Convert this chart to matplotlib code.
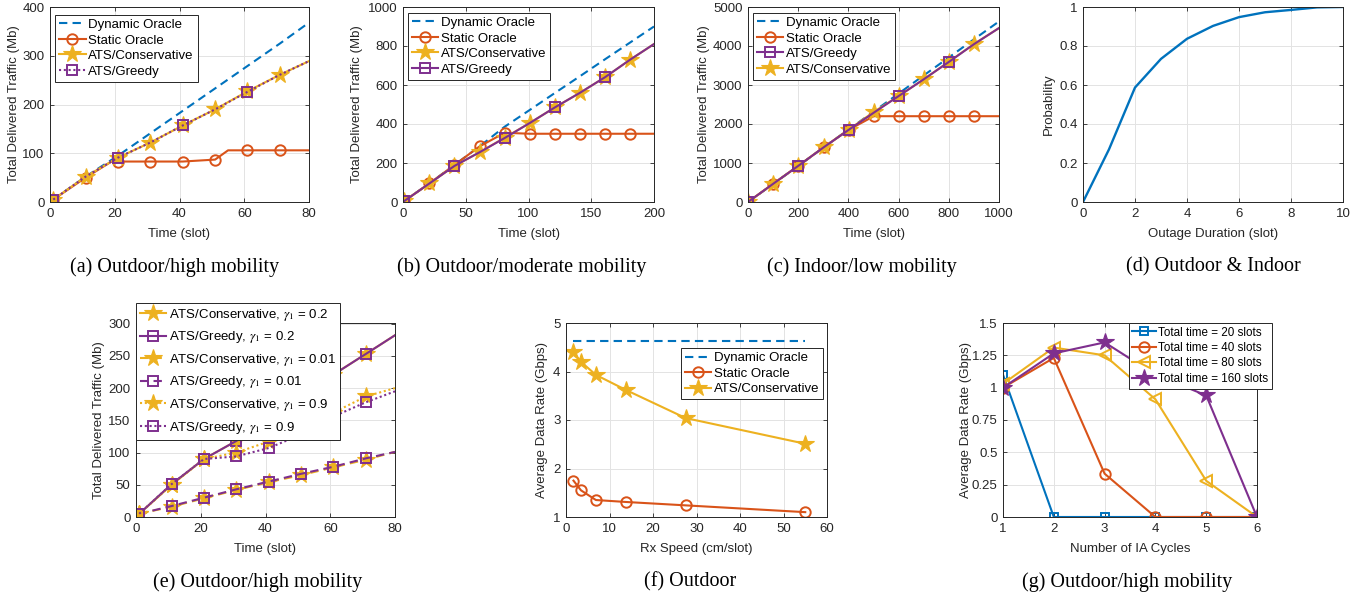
import matplotlib
matplotlib.use("Agg")
import matplotlib.pyplot as plt

# ---------------- data ----------------
# (a) Outdoor/high mobility
a_time = [1, 11, 21, 31, 41, 51, 61, 71, 80]
a_dynamic = [5, 52, 95, 141, 187, 233, 279, 325, 368]
a_static_time = [1, 11, 19, 21, 31, 41, 51, 55, 61, 71, 80]
a_static = [5, 50, 83, 83, 83, 83, 87, 106, 106, 106, 106]
a_cons = [5, 52, 91, 122, 157, 190, 227, 261, 289]
a_greedy = [5, 52, 91, 122, 157, 190, 226, 261, 289]

# (b) Outdoor/moderate mobility
b_time = [1, 21, 41, 61, 81, 101, 121, 141, 161, 181, 200]
b_dynamic = [5, 95, 190, 285, 386, 472, 559, 645, 732, 818, 900]
b_static = [5, 95, 190, 285, 355, 350, 350, 350, 350, 350, 350]
b_cons = [5, 95, 185, 255, 330, 405, 485, 560, 640, 730, 810]
b_greedy = [5, 95, 185, 255, 328, 405, 485, 560, 640, 730, 810]

# (c) Indoor/low mobility
c_time = [1, 101, 201, 301, 401, 501, 601, 701, 801, 901, 1000]
c_dynamic = [5, 465, 930, 1395, 1860, 2320, 2785, 3250, 3710, 4175, 4630]
c_static = [5, 470, 930, 1400, 1850, 2200, 2200, 2200, 2200, 2200, 2200]
c_greedy = [5, 470, 930, 1400, 1850, 2290, 2720, 3150, 3595, 4050, 4460]
c_cons = [5, 470, 930, 1400, 1855, 2310, 2720, 3150, 3600, 4055, 4460]

# (d) Outdoor & Indoor
d_duration = [0, 1, 2, 3, 4, 5, 6, 7, 8, 9, 10]
d_prob = [0, 0.27, 0.587, 0.734, 0.837, 0.903, 0.948, 0.973, 0.985, 0.998, 1.0]

# (e) Outdoor/high mobility, different gamma_1
e_time = [1, 11, 21, 31, 41, 51, 61, 71, 80]
e_cons_02 = [5, 50, 90, 118, 152, 187, 221, 253, 282]
e_greedy_02 = [5, 51, 90, 118, 152, 187, 221, 253, 282]
e_cons_001 = [5, 16, 29, 42, 54, 65, 77, 89, 101]
e_greedy_001 = [5, 17, 30, 43, 55, 67, 78, 91, 101]
e_cons_09 = [5, 50, 90, 100, 117, 136, 162, 187, 200]
e_greedy_09 = [5, 51, 90, 94, 107, 128, 156, 178, 195]

# (f) Outdoor, rate vs speed
f_speed = [1.72, 3.44, 6.875, 13.75, 27.5, 55]
f_dynamic = [4.62, 4.62, 4.62, 4.62, 4.62, 4.62]
f_static = [1.75, 1.55, 1.35, 1.31, 1.24, 1.10]
f_cons = [4.40, 4.20, 3.93, 3.62, 3.04, 2.51]

# (g) Outdoor/high mobility, rate vs IA cycles
g_cycles = [1, 2, 3, 4, 5, 6]
g_20 = [1.10, 0, 0, 0, 0, 0]
g_40 = [1.00, 1.23, 0.335, 0, 0, 0]
g_80 = [1.03, 1.31, 1.25, 0.91, 0.28, 0]
g_160 = [1.00, 1.265, 1.35, 1.10, 0.94, 0]

captions = ["(a) Outdoor/high mobility", "(b) Outdoor/moderate mobility",
            "(c) Indoor/low mobility", "(d) Outdoor & Indoor",
            "(e) Outdoor/high mobility", "(f) Outdoor", "(g) Outdoor/high mobility"]

# ---------------- style ----------------
BLUE = "#0072BD"
ORANGE = "#D95319"
YELLOW = "#EDB120"
PURPLE = "#7E2F8E"
TXT = "#262626"

plt.rcParams["font.family"] = ["Liberation Sans", "DejaVu Sans"]
plt.rcParams["mathtext.fontset"] = "stix"
plt.rcParams["font.size"] = 9

W, H = 1363, 597
fig = plt.figure(figsize=(W / 100, H / 100), dpi=100)

LW = 1.5
DASH = (0, (4, 2.5))
DOT = (0, (1, 1.3))
XLPAD = 6


def make_ax(l, t, r, b):
    ax = fig.add_axes([l / W, 1 - b / H, (r - l) / W, (b - t) / H])
    ax.grid(True, color="#e3e3e3", lw=0.7)
    ax.set_axisbelow(True)
    for s in ax.spines.values():
        s.set_color(TXT)
        s.set_linewidth(0.7)
    ax.tick_params(direction="in", length=3, width=0.6, colors=TXT,
                   labelsize=9.5, top=True, right=True, pad=4)
    return ax


def legend(ax, loc, anchor, fs=9.5, ls=0.25, **kw):
    lg = ax.legend(loc=loc, bbox_to_anchor=anchor, fancybox=False,
                   framealpha=1, edgecolor=TXT, fontsize=fs,
                   handlelength=2.0, handletextpad=0.2, labelspacing=ls,
                   borderpad=0.3, borderaxespad=0, **kw)
    lg.get_frame().set_linewidth(0.7)
    lg.set_zorder(10)
    return lg


circ = dict(marker="o", ms=7.5, mfc="none", mew=1.4)
star = dict(marker="*", ms=13, mew=0.8)
sq = dict(marker="s", ms=6.5, mfc="none", mew=1.4)

# (a)
ax = make_ax(50, 7, 309, 202)
ax.plot(a_time, a_dynamic, color=BLUE, lw=LW, ls=DASH, label="Dynamic Oracle")
ax.plot(a_static_time, a_static, color=ORANGE, lw=LW, markevery=[0, 1, 3, 4, 5, 6, 8, 9],
        label="Static Oracle", **circ)
ax.plot(a_time, a_cons, color=YELLOW, lw=LW, markevery=list(range(8)), mec=YELLOW, mfc=YELLOW,
        label="ATS/Conservative", **star)
ax.plot(a_time, a_greedy, color=PURPLE, lw=LW, ls=DOT, markevery=[0, 2, 4, 6],
        label="ATS/Greedy", **sq)
ax.set_xlim(0, 80); ax.set_ylim(0, 400)
ax.set_xticks(range(0, 81, 20)); ax.set_yticks(range(0, 401, 100))
ax.set_xlabel("Time (slot)", color=TXT, fontsize=9.5, labelpad=XLPAD)
ax.set_ylabel("Total Delivered Traffic (Mb)", color=TXT, fontsize=9.5)
ax.yaxis.set_label_coords(-0.115, 0.5)
legend(ax, "upper left", (0.02, 0.96))

# (b)
ax = make_ax(403, 7, 654, 202)
ax.plot(b_time, b_dynamic, color=BLUE, lw=LW, ls=DASH, label="Dynamic Oracle")
ax.plot(b_time, b_static, color=ORANGE, lw=LW, markevery=list(range(10)),
        label="Static Oracle", **circ)
ax.plot(b_time, b_cons, color=YELLOW, lw=LW, markevery=list(range(10)), mec=YELLOW, mfc=YELLOW,
        label="ATS/Conservative", **star)
ax.plot(b_time, b_greedy, color=PURPLE, lw=LW, markevery=[0, 2, 4, 6, 8],
        label="ATS/Greedy", **sq)
ax.set_xlim(0, 200); ax.set_ylim(0, 1000)
ax.set_xticks(range(0, 201, 50)); ax.set_yticks(range(0, 1001, 200))
ax.set_xlabel("Time (slot)", color=TXT, fontsize=9.5, labelpad=XLPAD)
ax.set_ylabel("Total Delivered Traffic (Mb)", color=TXT, fontsize=9.5)
ax.yaxis.set_label_coords(-0.159, 0.5)
legend(ax, "upper left", (0.02, 0.97))

# (c)
ax = make_ax(748, 7, 999, 202)
ax.plot(c_time, c_dynamic, color=BLUE, lw=LW, ls=DASH, label="Dynamic Oracle")
ax.plot(c_time, c_static, color=ORANGE, lw=LW, markevery=list(range(10)),
        label="Static Oracle", **circ)
ax.plot(c_time, c_cons, color=YELLOW, lw=LW, markevery=list(range(10)), mec=YELLOW,
        mfc=YELLOW, label="ATS/Conservative", **star)
ax.plot(c_time, c_greedy, color=PURPLE, lw=LW, markevery=[0, 2, 4, 6, 8],
        label="ATS/Greedy", **sq)
ax.set_xlim(0, 1000); ax.set_ylim(0, 5000)
ax.set_xticks(range(0, 1001, 200)); ax.set_yticks(range(0, 5001, 1000))
ax.set_xlabel("Time (slot)", color=TXT, fontsize=9.5, labelpad=XLPAD)
ax.set_ylabel("Total Delivered Traffic (Mb)", color=TXT, fontsize=9.5)
ax.yaxis.set_label_coords(-0.151, 0.5)
h, l = ax.get_legend_handles_labels()
order = [0, 1, 3, 2]
legend(ax, "upper left", (0.02, 0.97), handles=[h[i] for i in order],
       labels=[l[i] for i in order])

# (d)
ax = make_ax(1083, 7, 1343, 202)
ax.plot(d_duration, d_prob, color=BLUE, lw=LW + 0.2)
ax.set_xlim(0, 10); ax.set_ylim(0, 1)
ax.set_xticks(range(0, 11, 2))
ax.set_yticks([0, 0.2, 0.4, 0.6, 0.8, 1.0])
ax.set_yticklabels(["0", "0.2", "0.4", "0.6", "0.8", "1"])
ax.set_xlabel("Outage Duration (slot)", color=TXT, fontsize=9.5, labelpad=XLPAD)
ax.set_ylabel("Probability", color=TXT, fontsize=9.5)
ax.yaxis.set_label_coords(-0.108, 0.5)

# (e)
ax = make_ax(136, 323, 395, 517)
mk = list(range(8))
ax.plot(e_time, e_cons_02, color=YELLOW, lw=LW, markevery=mk, mec=YELLOW, mfc=YELLOW,
        label=r"ATS/Conservative, $\gamma_1$ = 0.2", **star)
ax.plot(e_time, e_greedy_02, color=PURPLE, lw=LW, markevery=mk,
        label=r"ATS/Greedy, $\gamma_1$ = 0.2", **sq)
ax.plot(e_time, e_cons_001, color=YELLOW, lw=LW, ls=DASH, markevery=mk, mec=YELLOW, mfc=YELLOW,
        label=r"ATS/Conservative, $\gamma_1$ = 0.01", **star)
ax.plot(e_time, e_greedy_001, color=PURPLE, lw=LW, ls=DASH, markevery=mk,
        label=r"ATS/Greedy, $\gamma_1$ = 0.01", **sq)
ax.plot(e_time, e_cons_09, color=YELLOW, lw=LW, ls=DOT, markevery=mk, mec=YELLOW, mfc=YELLOW,
        label=r"ATS/Conservative, $\gamma_1$ = 0.9", **star)
ax.plot(e_time, e_greedy_09, color=PURPLE, lw=LW, ls=DOT, markevery=mk,
        label=r"ATS/Greedy, $\gamma_1$ = 0.9", **sq)
ax.set_xlim(0, 80); ax.set_ylim(0, 301)
ax.set_xticks(range(0, 81, 20)); ax.set_yticks(range(0, 301, 50))
ax.set_xlabel("Time (slot)", color=TXT, fontsize=9.5, labelpad=XLPAD)
ax.set_ylabel("Total Delivered Traffic (Mb)", color=TXT, fontsize=9.5)
ax.yaxis.set_label_coords(-0.12, 0.5)
legend(ax, "upper left", (0.0, 1.105), ls=0.5)

# (f)
ax = make_ax(566, 323, 827, 517)
ax.plot(f_speed, f_dynamic, color=BLUE, lw=LW, ls=DASH, label="Dynamic Oracle")
ax.plot(f_speed, f_static, color=ORANGE, lw=LW, label="Static Oracle", **circ)
ax.plot(f_speed, f_cons, color=YELLOW, lw=LW, mec=YELLOW, mfc=YELLOW,
        label="ATS/Conservative", **star)
ax.set_xlim(0, 60); ax.set_ylim(1, 5)
ax.set_xticks(range(0, 61, 10)); ax.set_yticks(range(1, 6))
ax.set_xlabel("Rx Speed (cm/slot)", color=TXT, fontsize=9.5, labelpad=XLPAD)
ax.set_ylabel("Average Data Rate (Gbps)", color=TXT, fontsize=9.5)
ax.yaxis.set_label_coords(-0.069, 0.5)
legend(ax, "upper right", (0.985, 0.87))

# (g)
ax = make_ax(1003, 323, 1257, 517)
ax.plot(g_cycles, g_20, color=BLUE, lw=LW, marker="s", ms=6, mfc="none", mew=1.4,
        label="Total time = 20 slots")
ax.plot(g_cycles, g_40, color=ORANGE, lw=LW, label="Total time = 40 slots", **circ)
ax.plot(g_cycles, g_80, color=YELLOW, lw=LW, marker="<", ms=9, mfc="none", mew=1.4,
        label="Total time = 80 slots")
ax.plot(g_cycles, g_160, color=PURPLE, lw=LW, mec=PURPLE, mfc=PURPLE,
        label="Total time = 160 slots", **star)
ax.set_xlim(1, 6); ax.set_ylim(0, 1.5)
ax.set_xticks(range(1, 7))
ax.set_yticks([0, 0.25, 0.5, 0.75, 1.0, 1.25, 1.5])
ax.set_yticklabels(["0", "0.25", "0.5", "0.75", "1", "1.25", "1.5"])
ax.set_xlabel("Number of IA Cycles", color=TXT, fontsize=9.5, labelpad=XLPAD)
ax.set_ylabel("Average Data Rate (Gbps)", color=TXT, fontsize=9.5)
ax.yaxis.set_label_coords(-0.122, 0.5)
legend(ax, "upper left", (0.496, 1.0), fs=8.4, ls=0.3)

# captions
cap_pos = [(175, 267), (522, 267), (862, 267), (1213, 267),
           (258, 582), (690, 582), (1127, 582)]
for (cx, cy), text in zip(cap_pos, captions):
    fig.text(cx / W, 1 - cy / H, text, ha="center", va="center",
             fontsize=14.5, family=["Liberation Serif", "DejaVu Serif"], color="black")

fig.savefig("out.png", dpi=100)
